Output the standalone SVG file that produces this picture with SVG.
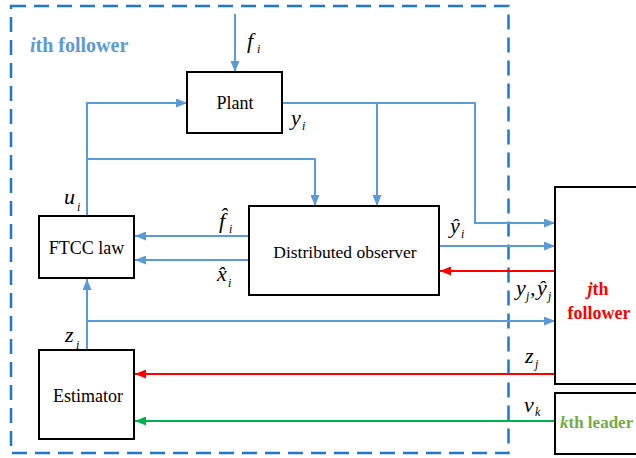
<svg xmlns="http://www.w3.org/2000/svg" width="636" height="458" viewBox="0 0 636 458">
<defs>
<marker id="ab" markerWidth="11" markerHeight="9" refX="11" refY="4.5" orient="auto" markerUnits="userSpaceOnUse"><path d="M0,0 L11,4.5 L0,9 z" fill="#5B9BD5"/></marker>
<marker id="ar" markerWidth="11" markerHeight="9" refX="11" refY="4.5" orient="auto" markerUnits="userSpaceOnUse"><path d="M0,0 L11,4.5 L0,9 z" fill="#FF0000"/></marker>
<marker id="ag" markerWidth="11" markerHeight="9" refX="11" refY="4.5" orient="auto" markerUnits="userSpaceOnUse"><path d="M0,0 L11,4.5 L0,9 z" fill="#00B050"/></marker>
</defs>
<rect width="636" height="458" fill="#fff"/>
<g id="follower-i-boundary">
<rect x="11" y="6" width="497.5" height="447" fill="none" stroke="#1F78C8" stroke-width="2.5" stroke-dasharray="15,8"/>
<text x="30" y="52" font-size="20" font-family="Liberation Serif" font-weight="bold" fill="#5B9BD5"><tspan font-style="italic">i</tspan>th follower</text>
</g>
<g id="connectors" fill="none" stroke-width="2">
<g stroke="#5B9BD5" marker-end="url(#ab)">
<path d="M235,14 V72"/>
<path d="M87,216 V103 H187"/>
<path d="M87,159 H315 V206"/>
<path d="M282,103 H475 V223 H555"/>
<path d="M377,103 V206"/>
<path d="M439,246 H555"/>
<path d="M249,236 H135"/>
<path d="M249,260 H135"/>
<path d="M87,350 V279"/>
<path d="M87,321 H555"/>
</g>
<g stroke="#FF0000" marker-end="url(#ar)">
<path d="M555,271 H440"/>
<path d="M555,374 H135"/>
</g>
<path stroke="#00B050" marker-end="url(#ag)" d="M555,421 H135"/>
</g>
<g id="connector-labels" fill="#000">
<text x="247" y="48" font-size="22" font-family="Liberation Serif" font-style="italic">f<tspan font-size="12" x="257" y="53">i</tspan></text>
<text x="291" y="125" font-size="22" font-family="Liberation Serif" font-style="italic">y<tspan font-size="12" x="302" y="130">i</tspan></text>
<text x="64" y="204" font-size="22" font-family="Liberation Serif" font-style="italic">u<tspan font-size="12" x="77" y="211">i</tspan></text>
<text x="65" y="342" font-size="22" font-family="Liberation Serif" font-style="italic">z<tspan font-size="12" x="76" y="349">i</tspan></text>
<text x="219" y="228" font-size="22" font-family="Liberation Serif" font-style="italic">f&#770;<tspan font-size="12" x="229" y="233">i</tspan></text>
<text x="217" y="281" font-size="22" font-family="Liberation Serif" font-style="italic">x&#770;<tspan font-size="12" x="228" y="287">i</tspan></text>
<text x="450" y="233" font-size="22" font-family="Liberation Serif" font-style="italic">y&#770;<tspan font-size="12" x="461" y="238">i</tspan></text>
<text x="516" y="295" font-size="22" font-family="Liberation Serif" font-style="italic">y<tspan font-size="12" x="526" y="300">j</tspan><tspan x="530" y="295">,</tspan><tspan x="537" y="295">y&#770;</tspan><tspan font-size="12" x="548" y="300">j</tspan></text>
<text x="525" y="363" font-size="22" font-family="Liberation Serif" font-style="italic">z<tspan font-size="12" x="535" y="368">j</tspan></text>
<text x="524" y="412" font-size="22" font-family="Liberation Serif" font-style="italic">v<tspan font-size="12" x="535" y="416">k</tspan></text>
</g>
<g id="plant">
<rect x="187" y="72" width="95" height="61" fill="#fff" stroke="#000" stroke-width="2"/>
<text x="235" y="109" font-size="18" font-family="Liberation Serif" text-anchor="middle">Plant</text>
</g>
<g id="ftcc-law">
<rect x="39" y="216" width="95" height="62" fill="#fff" stroke="#000" stroke-width="2"/>
<text x="86.5" y="254" font-size="18" font-family="Liberation Serif" text-anchor="middle">FTCC law</text>
</g>
<g id="distributed-observer">
<rect x="249" y="206" width="190" height="89" fill="#fff" stroke="#000" stroke-width="2"/>
<text x="345" y="258" font-size="17.5" font-family="Liberation Serif" text-anchor="middle">Distributed observer</text>
</g>
<g id="estimator">
<rect x="39" y="350" width="95" height="89" fill="#fff" stroke="#000" stroke-width="2"/>
<text x="88" y="402" font-size="18" font-family="Liberation Serif" text-anchor="middle">Estimator</text>
</g>
<g id="jth-follower">
<rect x="555" y="187" width="100" height="197" fill="#fff" stroke="#000" stroke-width="2"/>
<text x="598" y="295" font-size="18" font-family="Liberation Serif" font-weight="bold" fill="#FF0000" text-anchor="middle"><tspan font-style="italic">j</tspan>th</text>
<text x="599" y="319" font-size="18" font-family="Liberation Serif" font-weight="bold" fill="#FF0000" text-anchor="middle">follower</text>
</g>
<g id="kth-leader">
<rect x="555" y="393" width="100" height="61" fill="#fff" stroke="#000" stroke-width="2"/>
<text x="560" y="428" font-size="17" font-family="Liberation Serif" font-weight="bold" fill="#70AD47"><tspan font-style="italic">k</tspan>th leader</text>
</g>
</svg>
